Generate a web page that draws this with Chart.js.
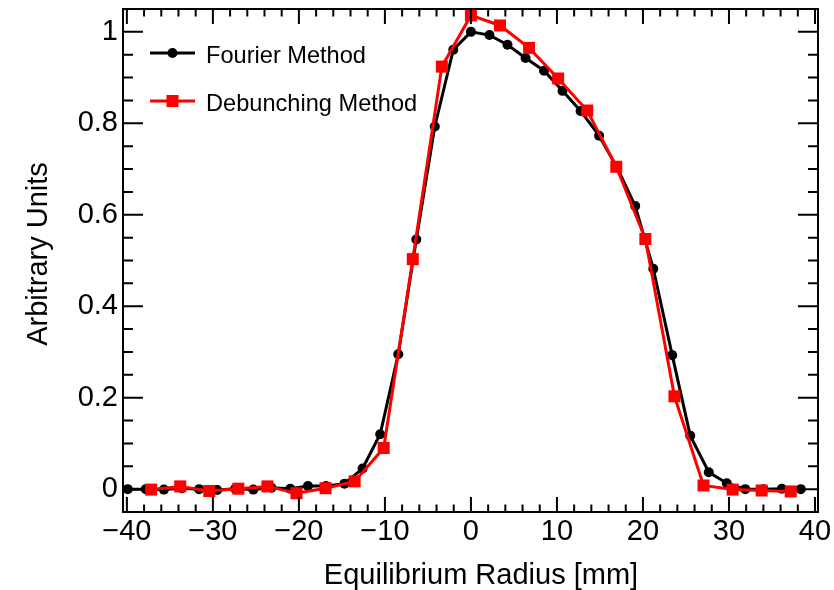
<!DOCTYPE html>
<html><head><meta charset="utf-8">
<script src="https://cdn.jsdelivr.net/npm/chart.js@4/dist/chart.umd.min.js"></script>
<style>html,body{margin:0;padding:0;background:#fff}#wrap{width:834px;height:590px;position:relative}</style>
</head><body><div id="wrap"><canvas id="c" width="834" height="590"></canvas></div>
<script>
// ---- data ----
const fourierX = [-39.9,-37.8,-35.7,-33.6,-31.6,-29.5,-27.4,-25.3,-23.2,-21.0,-18.95,-16.85,-14.7,-12.6,-10.55,-8.45,-6.35,-4.2,-2.05,0.0,2.15,4.25,6.35,8.5,10.65,12.75,14.9,17.0,19.1,21.2,23.4,25.5,27.65,29.75,31.9,34.0,36.15,38.35];
const fourierY = [0.000,0.000,-0.001,0.002,0.000,-0.002,0.001,-0.001,0.003,0.001,0.007,0.007,0.012,0.045,0.120,0.295,0.546,0.793,0.961,1.000,0.993,0.972,0.943,0.915,0.871,0.827,0.773,0.703,0.619,0.482,0.293,0.117,0.037,0.013,0.000,0.000,0.001,0.000];
const debunchX = [-37.18,-33.8,-30.42,-27.04,-23.66,-20.28,-16.9,-13.52,-10.14,-6.76,-3.38,0,3.38,6.76,10.14,13.52,16.9,20.28,23.66,27.04,30.42,33.8,37.18];
const debunchY = [-0.001,0.006,-0.004,0.001,0.006,-0.009,0.002,0.017,0.090,0.503,0.924,1.036,1.014,0.965,0.898,0.828,0.705,0.547,0.203,0.008,-0.001,-0.003,-0.005];
const xTickValues = [-40,-30,-20,-10,0,10,20,30,40];
const yTickValues = [0,0.2,0.4,0.6,0.8,1];
const seriesNames = ['Fourier Method','Debunching Method'];
const xTitle = 'Equilibrium Radius [mm]';
const yTitle = 'Arbitrary Units';

const FONT = '"Liberation Sans", Arial, Helvetica, sans-serif';
const toPts = (xs, ys) => xs.map((v, i) => ({x: v, y: ys[i]}));
const fmt = v => (v < 0 ? '\u2212' + Math.abs(v) : String(v));

const frameTicks = {
  id: 'frameTicks',
  afterDraw(chart) {
    const {ctx, chartArea: a, scales: {x, y}} = chart;
    ctx.save();
    ctx.strokeStyle = '#000';
    ctx.lineWidth = 2;
    ctx.strokeRect(a.left, a.top, a.right - a.left, a.bottom - a.top);
    ctx.beginPath();
    for (let i = -20; i <= 20; i++) {
      const px = x.getPixelForValue(i * 2);
      const L = (i % 5 === 0) ? 15 : 7.5;
      ctx.moveTo(px, a.bottom); ctx.lineTo(px, a.bottom - L);
      ctx.moveTo(px, a.top); ctx.lineTo(px, a.top + L);
    }
    for (let i = -1; i <= 21; i++) {
      const py = y.getPixelForValue(i * 0.05);
      const L = (i % 4 === 0) ? 20 : 10;
      ctx.moveTo(a.left, py); ctx.lineTo(a.left + L, py);
      ctx.moveTo(a.right, py); ctx.lineTo(a.right - L, py);
    }
    ctx.stroke();

    // axis titles
    ctx.fillStyle = '#000';
    ctx.font = '29px ' + FONT;
    ctx.textAlign = 'center';
    ctx.textBaseline = 'alphabetic';
    ctx.fillText(xTitle, 481, 584);
    ctx.save();
    ctx.translate(47, 254);
    ctx.rotate(-Math.PI / 2);
    ctx.fillText(yTitle, 0, 0);
    ctx.restore();

    // legend
    const items = [
      {name: seriesNames[0], color: '#000', style: 'circle', y: 53},
      {name: seriesNames[1], color: '#ff0000', style: 'rect', y: 101}
    ];
    ctx.font = '23.6px ' + FONT;
    ctx.textAlign = 'left';
    ctx.textBaseline = 'alphabetic';
    items.forEach(it => {
      ctx.strokeStyle = it.color; ctx.fillStyle = it.color; ctx.lineWidth = 3;
      ctx.beginPath(); ctx.moveTo(150, it.y); ctx.lineTo(195, it.y); ctx.stroke();
      ctx.beginPath();
      if (it.style === 'circle') { ctx.arc(172.5, it.y, 5, 0, Math.PI * 2); ctx.fill(); }
      else { ctx.fillRect(172.5 - 6, it.y - 6, 12, 12); }
      ctx.fillStyle = '#000';
      ctx.fillText(it.name, 206, it.y + 9.5);
    });
    ctx.restore();
  }
};

new Chart(document.getElementById('c'), {
  type: 'scatter',
  data: {
    datasets: [
      {label: seriesNames[1], data: toPts(debunchX, debunchY), showLine: true, order: 0,
       borderColor: '#ff0000', backgroundColor: '#ff0000', borderWidth: 3,
       pointStyle: 'rect', pointRadius: 8.5, pointBorderWidth: 0, pointHoverRadius: 8.5},
      {label: seriesNames[0], data: toPts(fourierX, fourierY), showLine: true, order: 1,
       borderColor: '#000', backgroundColor: '#000', borderWidth: 3,
       pointStyle: 'circle', pointRadius: 5, pointBorderWidth: 0, pointHoverRadius: 5}
    ]
  },
  options: {
    responsive: false, animation: false, devicePixelRatio: 1,
    layout: {padding: {left: 0, right: 16, top: 9, bottom: 0}},
    plugins: {legend: {display: false}, tooltip: {enabled: false}},
    scales: {
      x: {
        type: 'linear', min: -40.45, max: 40.35,
        grid: {display: false, drawTicks: false}, border: {display: false},
        afterBuildTicks: s => { s.ticks = xTickValues.map(v => ({value: v})); },
        afterFit: s => { s.height = 78; s.paddingLeft = 0; s.paddingRight = 0; },
        ticks: {color: '#000', font: {family: FONT, size: 29}, padding: 3, maxRotation: 0, autoSkip: false,
                callback: v => fmt(v)}
      },
      y: {
        type: 'linear', min: -0.05, max: 1.05,
        grid: {display: false, drawTicks: false}, border: {display: false},
        afterBuildTicks: s => { s.ticks = yTickValues.map(v => ({value: v})); },
        afterFit: s => { s.width = 123; s.paddingTop = 0; s.paddingBottom = 0; },
        ticks: {color: '#000', font: {family: FONT, size: 29}, padding: 5, autoSkip: false,
                callback: v => String(Math.round(v * 10) / 10)}
      }
    }
  },
  plugins: [frameTicks]
});
</script>
</body></html>
